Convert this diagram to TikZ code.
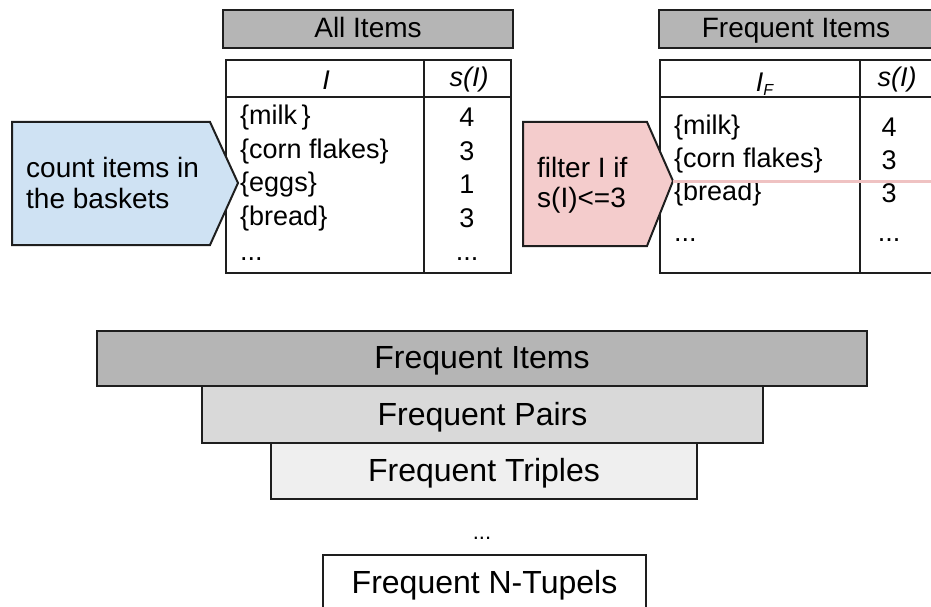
\documentclass[tikz,border=0pt]{standalone}
\usepackage{fontspec}
\setmainfont{Liberation Sans}
\definecolor{hdrgray}{HTML}{B5B5B5}
\definecolor{lvltwo}{HTML}{D9D9D9}
\definecolor{lvlthree}{HTML}{EFEFEF}
\definecolor{bluefill}{HTML}{CFE2F3}
\definecolor{pinkfill}{HTML}{F4CCCC}
\definecolor{pinkline}{HTML}{EFC2C2}
\definecolor{edgecol}{HTML}{1E1E1E}
\begin{document}
\begin{tikzpicture}[x=1pt,y=-1pt,
  boxline/.style={draw=edgecol,line width=2.6pt},
  hdrbox/.style={boxline,fill=hdrgray,inner sep=0pt},
  hdrtxt/.style={inner sep=0pt,font=\fontsize{28}{32}\selectfont,anchor=base},
  cell/.style={inner sep=0pt,font=\fontsize{27}{31}\selectfont},
  arrowtxt/.style={inner sep=0pt,font=\fontsize{28}{32}\selectfont,anchor=base west},
  barbox/.style={boxline,inner sep=0pt},
  bartxt/.style={inner sep=0pt,font=\fontsize{32}{36}\selectfont,anchor=base}]
\useasboundingbox (0,0) rectangle (931,607);
\clip (0,0) rectangle (931,607);

% ---------- left part: all items ----------
\node[hdrbox,minimum width=290pt,minimum height=38pt] (allhdr) at (368,29) {};
\node[hdrtxt] (allhdrtxt) at (368,38) {All Items};
\draw[boxline] (226,60) rectangle (511,273);
\draw[boxline] (226,97) -- (511,97);
\draw[boxline] (424,60) -- (424,273);
\node[cell] (hI) at (326,80) {\textit{I}};
\node[cell] (hS) at (469,80) {\textit{s(I)}};
\node[cell,anchor=west] (r1) at (240,118) {\{milk\,\}};
\node[cell,anchor=west] (r2) at (240,152) {\{corn flakes\}};
\node[cell,anchor=west] (r3) at (240,185) {\{eggs\}};
\node[cell,anchor=west] (r4) at (240,219) {\{bread\}};
\node[cell,anchor=base west] (r5) at (240,260) {...};
\node[cell] (n1) at (467,117) {4};
\node[cell] (n2) at (467,151) {3};
\node[cell] (n3) at (467,184) {1};
\node[cell] (n4) at (467,218) {3};
\node[cell,anchor=base] (n5) at (467,260) {...};

% blue arrow
\coordinate (bluetip) at (238,183);
\draw[draw=edgecol,line width=2pt,fill=bluefill,line join=miter]
  (12,122) -- (210,122) -- (bluetip) -- (210,245) -- (12,245) -- cycle;
\node[arrowtxt] (count1) at (26,177) {count items in};
\node[arrowtxt] (count2) at (26,208) {the baskets};

% ---------- right part: frequent items ----------
\node[hdrbox,minimum width=276pt,minimum height=38pt] (freqhdr) at (797,29) {};
\node[hdrtxt] (freqhdrtxt) at (796,38) {Frequent Items};
\draw[boxline] (660,60) rectangle (936,273);
\draw[boxline] (660,97) -- (936,97);
\draw[boxline] (860,60) -- (860,273);
\node[cell] (hIF) at (765,84) {\textit{I}{\fontsize{16}{16}\selectfont\raisebox{-4pt}{\textit{F}}}};
\node[cell] (hSF) at (897,80) {\textit{s(I)}};
\node[cell,anchor=west] (f1) at (674,128) {\{milk\}};
\node[cell,anchor=west] (f2) at (674,161) {\{corn flakes\}};
\node[cell,anchor=west] (f3) at (674,194) {\{bread\}};
\node[cell,anchor=base west] (f4) at (674,241) {...};
\node[cell] (m1) at (889,127) {4};
\node[cell] (m2) at (889,160) {3};
\node[cell] (m3) at (889,193) {3};
\node[cell,anchor=base] (m4) at (889,241) {...};

% pink arrow
\coordinate (pinktip) at (673,181);
\draw[draw=edgecol,line width=2pt,fill=pinkfill,line join=miter]
  (523,122) -- (647,122) -- (pinktip) -- (647,246) -- (523,246) -- cycle;
\node[arrowtxt] (filt1) at (537,177) {filter I if};
\node[arrowtxt] (filt2) at (537,207) {s(I)<=3};
\coordinate (pinkend) at (935,180);
\draw[pinkline,line width=3pt] (pinktip) -- (pinkend |- pinktip);

% ---------- bottom: pyramid ----------
\node[barbox,fill=hdrgray,minimum width=770pt,minimum height=55pt] (bar1) at (482,358.5) {};
\node[barbox,fill=lvltwo,minimum width=561pt,minimum height=57pt] (bar2) at (482.5,414.5) {};
\node[barbox,fill=lvlthree,minimum width=426pt,minimum height=56pt] (bar3) at (484,471) {};
\node[barbox,fill=white,minimum width=323pt,minimum height=56pt] (bar4) at (484.5,583) {};
\node[bartxt] (t1) at (482,368) {Frequent Items};
\node[bartxt] (t2) at (482.5,425) {Frequent Pairs};
\node[bartxt] (t3) at (484,481) {Frequent Triples};
\node[bartxt] (t4) at (484.5,593) {Frequent N-Tupels};
\node[cell,anchor=base,font=\fontsize{22}{24}\selectfont] (dots) at (482,539) {...};
\end{tikzpicture}
\end{document}
